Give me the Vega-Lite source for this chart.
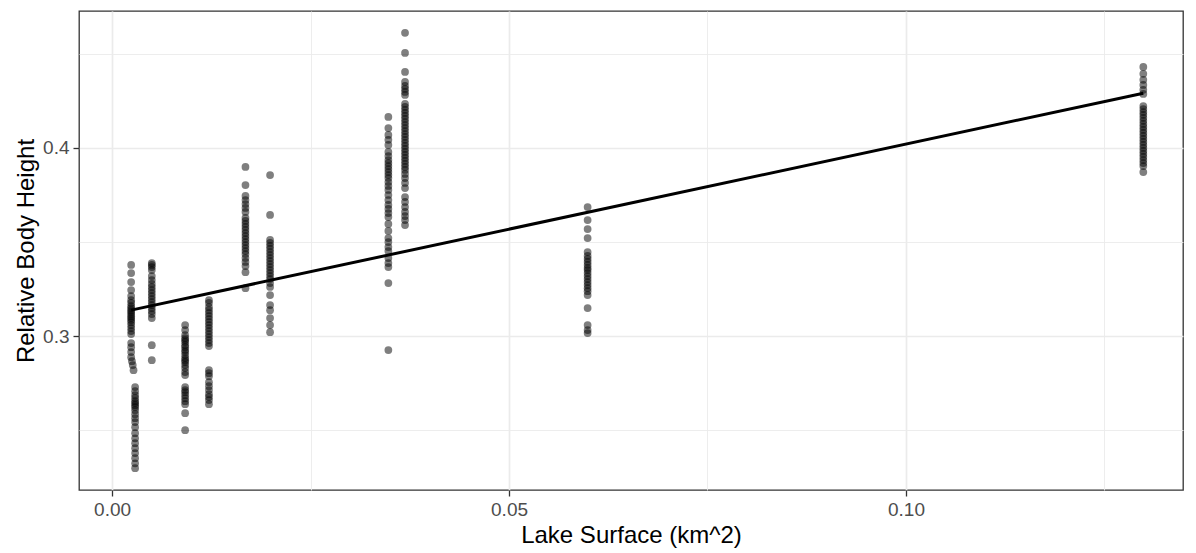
{
  "$schema": "https://vega.github.io/schema/vega-lite/v6.json",
  "width": 1104,
  "height": 479,
  "autosize": {"type": "none"},
  "padding": {"left": 79, "top": 11, "right": 13, "bottom": 63},
  "background": "white",
  "config": {
    "view": {"stroke": "#333333", "strokeWidth": 1.3},
    "axis": {
      "domain": false,
      "gridColor": "#ebebeb",
      "labelFont": "Liberation Sans",
      "labelFontSize": 19,
      "labelColor": "#4d4d4d",
      "tickColor": "#333333",
      "tickSize": 6,
      "tickWidth": 1.3,
      "labelPadding": 4,
      "titleFont": "Liberation Sans",
      "titleFontSize": 24,
      "titleFontWeight": "normal",
      "titleColor": "black",
      "titlePadding": 4
    }
  },
  "datasets": {
    "fit": [
      {"surface": 0.0024, "height": 0.3138},
      {"surface": 0.1299, "height": 0.4291}
    ],
    "pts": [
      {"surface": 0.0024, "height": 0.3378}, {"surface": 0.0024, "height": 0.3335}, {"surface": 0.0024, "height": 0.3287}, {"surface": 0.0024, "height": 0.3245}, {"surface": 0.0024, "height": 0.3213}, {"surface": 0.0024, "height": 0.3191}, {"surface": 0.0024, "height": 0.3176}, {"surface": 0.0024, "height": 0.3160}, {"surface": 0.0024, "height": 0.3149}, {"surface": 0.0024, "height": 0.3138}, {"surface": 0.0024, "height": 0.3128}, {"surface": 0.0024, "height": 0.3117}, {"surface": 0.0024, "height": 0.3106}, {"surface": 0.0024, "height": 0.3096}, {"surface": 0.0024, "height": 0.3085}, {"surface": 0.0024, "height": 0.3074}, {"surface": 0.0024, "height": 0.3059}, {"surface": 0.0024, "height": 0.3043}, {"surface": 0.0024, "height": 0.3027}, {"surface": 0.0024, "height": 0.3011}, {"surface": 0.0024, "height": 0.2963}, {"surface": 0.0024, "height": 0.2941}, {"surface": 0.0024, "height": 0.2915}, {"surface": 0.0024, "height": 0.2888}, {"surface": 0.0025, "height": 0.2867}, {"surface": 0.0026, "height": 0.2846}, {"surface": 0.0027, "height": 0.2819},
      {"surface": 0.0029, "height": 0.2729}, {"surface": 0.0029, "height": 0.2707}, {"surface": 0.0029, "height": 0.2686}, {"surface": 0.0029, "height": 0.2670}, {"surface": 0.0029, "height": 0.2654}, {"surface": 0.0029, "height": 0.2644}, {"surface": 0.0029, "height": 0.2633}, {"surface": 0.0029, "height": 0.2622}, {"surface": 0.0029, "height": 0.2606}, {"surface": 0.0029, "height": 0.2585}, {"surface": 0.0029, "height": 0.2564}, {"surface": 0.0029, "height": 0.2543}, {"surface": 0.0029, "height": 0.2516}, {"surface": 0.0029, "height": 0.2484}, {"surface": 0.0029, "height": 0.2457}, {"surface": 0.0029, "height": 0.2431}, {"surface": 0.0029, "height": 0.2404}, {"surface": 0.0029, "height": 0.2378}, {"surface": 0.0029, "height": 0.2351}, {"surface": 0.0029, "height": 0.2324}, {"surface": 0.0029, "height": 0.2298},
      {"surface": 0.0050, "height": 0.3388}, {"surface": 0.0050, "height": 0.3378}, {"surface": 0.0050, "height": 0.3367}, {"surface": 0.0050, "height": 0.3351}, {"surface": 0.0050, "height": 0.3319}, {"surface": 0.0050, "height": 0.3298}, {"surface": 0.0050, "height": 0.3277}, {"surface": 0.0050, "height": 0.3261}, {"surface": 0.0050, "height": 0.3245}, {"surface": 0.0050, "height": 0.3229}, {"surface": 0.0050, "height": 0.3213}, {"surface": 0.0050, "height": 0.3197}, {"surface": 0.0050, "height": 0.3181}, {"surface": 0.0050, "height": 0.3165}, {"surface": 0.0050, "height": 0.3149}, {"surface": 0.0050, "height": 0.3133}, {"surface": 0.0050, "height": 0.3117}, {"surface": 0.0050, "height": 0.3096}, {"surface": 0.0050, "height": 0.2952}, {"surface": 0.0050, "height": 0.2872},
      {"surface": 0.0092, "height": 0.3059}, {"surface": 0.0092, "height": 0.3032}, {"surface": 0.0092, "height": 0.3005}, {"surface": 0.0092, "height": 0.2989}, {"surface": 0.0092, "height": 0.2979}, {"surface": 0.0092, "height": 0.2968}, {"surface": 0.0092, "height": 0.2952}, {"surface": 0.0092, "height": 0.2941}, {"surface": 0.0092, "height": 0.2926}, {"surface": 0.0092, "height": 0.2915}, {"surface": 0.0092, "height": 0.2899}, {"surface": 0.0092, "height": 0.2883}, {"surface": 0.0092, "height": 0.2872}, {"surface": 0.0092, "height": 0.2862}, {"surface": 0.0092, "height": 0.2846}, {"surface": 0.0092, "height": 0.2830}, {"surface": 0.0092, "height": 0.2809}, {"surface": 0.0092, "height": 0.2793}, {"surface": 0.0092, "height": 0.2729}, {"surface": 0.0092, "height": 0.2713}, {"surface": 0.0092, "height": 0.2702}, {"surface": 0.0092, "height": 0.2686}, {"surface": 0.0092, "height": 0.2670}, {"surface": 0.0092, "height": 0.2654}, {"surface": 0.0092, "height": 0.2638}, {"surface": 0.0092, "height": 0.2590}, {"surface": 0.0092, "height": 0.2500},
      {"surface": 0.0122, "height": 0.3191}, {"surface": 0.0122, "height": 0.3176}, {"surface": 0.0122, "height": 0.3154}, {"surface": 0.0122, "height": 0.3138}, {"surface": 0.0122, "height": 0.3122}, {"surface": 0.0122, "height": 0.3106}, {"surface": 0.0122, "height": 0.3090}, {"surface": 0.0122, "height": 0.3074}, {"surface": 0.0122, "height": 0.3059}, {"surface": 0.0122, "height": 0.3043}, {"surface": 0.0122, "height": 0.3027}, {"surface": 0.0122, "height": 0.3011}, {"surface": 0.0122, "height": 0.2995}, {"surface": 0.0122, "height": 0.2979}, {"surface": 0.0122, "height": 0.2963}, {"surface": 0.0122, "height": 0.2947}, {"surface": 0.0122, "height": 0.2819}, {"surface": 0.0122, "height": 0.2803}, {"surface": 0.0122, "height": 0.2787}, {"surface": 0.0122, "height": 0.2755}, {"surface": 0.0122, "height": 0.2734}, {"surface": 0.0122, "height": 0.2713}, {"surface": 0.0122, "height": 0.2691}, {"surface": 0.0122, "height": 0.2676}, {"surface": 0.0122, "height": 0.2660}, {"surface": 0.0122, "height": 0.2638},
      {"surface": 0.0168, "height": 0.3899}, {"surface": 0.0168, "height": 0.3803}, {"surface": 0.0168, "height": 0.3745}, {"surface": 0.0168, "height": 0.3723}, {"surface": 0.0168, "height": 0.3702}, {"surface": 0.0168, "height": 0.3681}, {"surface": 0.0168, "height": 0.3660}, {"surface": 0.0168, "height": 0.3628}, {"surface": 0.0168, "height": 0.3612}, {"surface": 0.0168, "height": 0.3596}, {"surface": 0.0168, "height": 0.3580}, {"surface": 0.0168, "height": 0.3564}, {"surface": 0.0168, "height": 0.3548}, {"surface": 0.0168, "height": 0.3532}, {"surface": 0.0168, "height": 0.3516}, {"surface": 0.0168, "height": 0.3500}, {"surface": 0.0168, "height": 0.3484}, {"surface": 0.0168, "height": 0.3468}, {"surface": 0.0168, "height": 0.3452}, {"surface": 0.0168, "height": 0.3436}, {"surface": 0.0168, "height": 0.3415}, {"surface": 0.0168, "height": 0.3394}, {"surface": 0.0168, "height": 0.3372}, {"surface": 0.0168, "height": 0.3340}, {"surface": 0.0168, "height": 0.3255},
      {"surface": 0.0199, "height": 0.3856}, {"surface": 0.0199, "height": 0.3644}, {"surface": 0.0199, "height": 0.3511}, {"surface": 0.0199, "height": 0.3495}, {"surface": 0.0199, "height": 0.3479}, {"surface": 0.0199, "height": 0.3463}, {"surface": 0.0199, "height": 0.3447}, {"surface": 0.0199, "height": 0.3431}, {"surface": 0.0199, "height": 0.3415}, {"surface": 0.0199, "height": 0.3399}, {"surface": 0.0199, "height": 0.3383}, {"surface": 0.0199, "height": 0.3367}, {"surface": 0.0199, "height": 0.3351}, {"surface": 0.0199, "height": 0.3335}, {"surface": 0.0199, "height": 0.3319}, {"surface": 0.0199, "height": 0.3303}, {"surface": 0.0199, "height": 0.3282}, {"surface": 0.0199, "height": 0.3261}, {"surface": 0.0199, "height": 0.3218}, {"surface": 0.0199, "height": 0.3165}, {"surface": 0.0199, "height": 0.3138}, {"surface": 0.0199, "height": 0.3096}, {"surface": 0.0199, "height": 0.3059}, {"surface": 0.0199, "height": 0.3021},
      {"surface": 0.0348, "height": 0.4165}, {"surface": 0.0348, "height": 0.4106}, {"surface": 0.0348, "height": 0.4069}, {"surface": 0.0348, "height": 0.4043}, {"surface": 0.0348, "height": 0.4016}, {"surface": 0.0348, "height": 0.3979}, {"surface": 0.0348, "height": 0.3957}, {"surface": 0.0348, "height": 0.3936}, {"surface": 0.0348, "height": 0.3920}, {"surface": 0.0348, "height": 0.3904}, {"surface": 0.0348, "height": 0.3888}, {"surface": 0.0348, "height": 0.3872}, {"surface": 0.0348, "height": 0.3856}, {"surface": 0.0348, "height": 0.3840}, {"surface": 0.0348, "height": 0.3819}, {"surface": 0.0348, "height": 0.3798}, {"surface": 0.0348, "height": 0.3777}, {"surface": 0.0348, "height": 0.3750}, {"surface": 0.0348, "height": 0.3723}, {"surface": 0.0348, "height": 0.3697}, {"surface": 0.0348, "height": 0.3676}, {"surface": 0.0348, "height": 0.3654}, {"surface": 0.0348, "height": 0.3633}, {"surface": 0.0348, "height": 0.3596}, {"surface": 0.0348, "height": 0.3559}, {"surface": 0.0348, "height": 0.3521}, {"surface": 0.0348, "height": 0.3500}, {"surface": 0.0348, "height": 0.3473}, {"surface": 0.0348, "height": 0.3452}, {"surface": 0.0348, "height": 0.3415}, {"surface": 0.0348, "height": 0.3388}, {"surface": 0.0348, "height": 0.3367}, {"surface": 0.0348, "height": 0.3282}, {"surface": 0.0348, "height": 0.2926},
      {"surface": 0.0369, "height": 0.4612}, {"surface": 0.0369, "height": 0.4505}, {"surface": 0.0369, "height": 0.4404}, {"surface": 0.0369, "height": 0.4351}, {"surface": 0.0369, "height": 0.4330}, {"surface": 0.0369, "height": 0.4314}, {"surface": 0.0369, "height": 0.4298}, {"surface": 0.0369, "height": 0.4282}, {"surface": 0.0369, "height": 0.4234}, {"surface": 0.0369, "height": 0.4218}, {"surface": 0.0369, "height": 0.4202}, {"surface": 0.0369, "height": 0.4186}, {"surface": 0.0369, "height": 0.4170}, {"surface": 0.0369, "height": 0.4154}, {"surface": 0.0369, "height": 0.4138}, {"surface": 0.0369, "height": 0.4122}, {"surface": 0.0369, "height": 0.4106}, {"surface": 0.0369, "height": 0.4090}, {"surface": 0.0369, "height": 0.4074}, {"surface": 0.0369, "height": 0.4059}, {"surface": 0.0369, "height": 0.4043}, {"surface": 0.0369, "height": 0.4027}, {"surface": 0.0369, "height": 0.4011}, {"surface": 0.0369, "height": 0.3995}, {"surface": 0.0369, "height": 0.3979}, {"surface": 0.0369, "height": 0.3963}, {"surface": 0.0369, "height": 0.3947}, {"surface": 0.0369, "height": 0.3931}, {"surface": 0.0369, "height": 0.3915}, {"surface": 0.0369, "height": 0.3899}, {"surface": 0.0369, "height": 0.3883}, {"surface": 0.0369, "height": 0.3862}, {"surface": 0.0369, "height": 0.3840}, {"surface": 0.0369, "height": 0.3814}, {"surface": 0.0369, "height": 0.3787}, {"surface": 0.0369, "height": 0.3739}, {"surface": 0.0369, "height": 0.3713}, {"surface": 0.0369, "height": 0.3686}, {"surface": 0.0369, "height": 0.3660}, {"surface": 0.0369, "height": 0.3638}, {"surface": 0.0369, "height": 0.3617}, {"surface": 0.0369, "height": 0.3590},
      {"surface": 0.0599, "height": 0.3686}, {"surface": 0.0599, "height": 0.3617}, {"surface": 0.0599, "height": 0.3569}, {"surface": 0.0599, "height": 0.3521}, {"surface": 0.0599, "height": 0.3447}, {"surface": 0.0599, "height": 0.3426}, {"surface": 0.0599, "height": 0.3410}, {"surface": 0.0599, "height": 0.3394}, {"surface": 0.0599, "height": 0.3378}, {"surface": 0.0599, "height": 0.3362}, {"surface": 0.0599, "height": 0.3351}, {"surface": 0.0599, "height": 0.3335}, {"surface": 0.0599, "height": 0.3319}, {"surface": 0.0599, "height": 0.3303}, {"surface": 0.0599, "height": 0.3287}, {"surface": 0.0599, "height": 0.3271}, {"surface": 0.0599, "height": 0.3255}, {"surface": 0.0599, "height": 0.3239}, {"surface": 0.0599, "height": 0.3218}, {"surface": 0.0599, "height": 0.3149}, {"surface": 0.0599, "height": 0.3059}, {"surface": 0.0599, "height": 0.3032}, {"surface": 0.0599, "height": 0.3016},
      {"surface": 0.1299, "height": 0.4431}, {"surface": 0.1299, "height": 0.4394}, {"surface": 0.1299, "height": 0.4362}, {"surface": 0.1299, "height": 0.4335}, {"surface": 0.1299, "height": 0.4309}, {"surface": 0.1299, "height": 0.4287}, {"surface": 0.1299, "height": 0.4223}, {"surface": 0.1299, "height": 0.4207}, {"surface": 0.1299, "height": 0.4191}, {"surface": 0.1299, "height": 0.4176}, {"surface": 0.1299, "height": 0.4160}, {"surface": 0.1299, "height": 0.4144}, {"surface": 0.1299, "height": 0.4128}, {"surface": 0.1299, "height": 0.4112}, {"surface": 0.1299, "height": 0.4096}, {"surface": 0.1299, "height": 0.4080}, {"surface": 0.1299, "height": 0.4064}, {"surface": 0.1299, "height": 0.4048}, {"surface": 0.1299, "height": 0.4032}, {"surface": 0.1299, "height": 0.4016}, {"surface": 0.1299, "height": 0.4000}, {"surface": 0.1299, "height": 0.3984}, {"surface": 0.1299, "height": 0.3968}, {"surface": 0.1299, "height": 0.3952}, {"surface": 0.1299, "height": 0.3936}, {"surface": 0.1299, "height": 0.3920}, {"surface": 0.1299, "height": 0.3904}, {"surface": 0.1299, "height": 0.3872}
    ]
  },
  "layer": [
    {
      "data": {"name": "fit"},
      "mark": {"type": "point", "opacity": 0},
      "encoding": {
        "x": {"field": "surface", "type": "quantitative", "scale": {"domain": [-0.00417, 0.1349], "nice": false, "zero": false},
              "axis": {"orient": "top", "values": [0.025, 0.075, 0.125], "grid": true, "gridWidth": 0.9, "labels": false, "ticks": false, "domain": false, "title": null}},
        "y": {"field": "height", "type": "quantitative", "scale": {"domain": [0.2182, 0.4728], "nice": false, "zero": false},
              "axis": {"orient": "right", "values": [0.25, 0.35, 0.45], "grid": true, "gridWidth": 0.9, "labels": false, "ticks": false, "domain": false, "title": null}}
      }
    },
    {
      "data": {"name": "pts"},
      "mark": {"type": "circle", "size": 60, "opacity": 0.5, "color": "black"},
      "encoding": {
        "x": {"field": "surface", "type": "quantitative",
              "axis": {"orient": "bottom", "values": [0, 0.05, 0.1], "format": ".2f", "grid": true, "gridWidth": 1.7, "title": "Lake Surface (km^2)"}},
        "y": {"field": "height", "type": "quantitative",
              "axis": {"orient": "left", "values": [0.3, 0.4], "format": ".1f", "grid": true, "gridWidth": 1.7, "title": "Relative Body Height"}}
      }
    },
    {
      "data": {"name": "fit"},
      "mark": {"type": "line", "color": "black", "strokeWidth": 3},
      "encoding": {
        "x": {"field": "surface", "type": "quantitative", "axis": null},
        "y": {"field": "height", "type": "quantitative", "axis": null}
      }
    }
  ]
}
